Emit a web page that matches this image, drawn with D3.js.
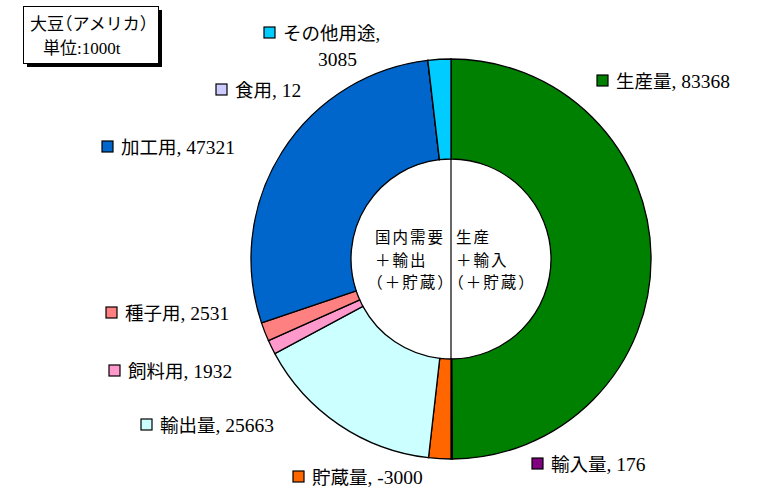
<!DOCTYPE html>
<html>
<head>
<meta charset="utf-8">
<script src="https://d3js.org/d3.v7.min.js"></script>
<style>
  body { margin: 0; background: #fff; }
  text { font-family: "Liberation Serif", "Noto Sans CJK JP", serif; }
  .halt { font-feature-settings: "halt" 1; }
</style>
</head>
<body>
<div id="chart"></div>
<script>
// slice order: supply half (clockwise from top), then demand half
var names  = ["生産量", "輸入量", "貯蔵量", "輸出量", "飼料用", "種子用", "加工用", "食用", "その他用途"];
var values = [83368, 176, -3000, 25663, 1932, 2531, 47321, 12, 3085];
var colors = ["#008000", "#800080", "#FF6600", "#CCFFFF", "#FF99CC", "#FF8080", "#0066CC", "#CCCCFF", "#00CCFF"];

// label anchor spots (square left / text baseline)
var labelPos = [
  [597, 88], [532, 471], [293, 484], [141, 432], [109, 378],
  [106, 320], [102, 154], [216, 97], [264, 40]
];

var W = 763, H = 495;
var cx = 451, cy = 259, R = 200, r = 100;

var svg = d3.select("#chart").append("svg")
  .attr("width", W).attr("height", H);

var data = names.map(function (n, i) {
  return { name: n, value: values[i], color: colors[i], pos: labelPos[i] };
});

var pie = d3.pie().sort(null).value(function (d) { return Math.abs(d.value); });
var arc = d3.arc().innerRadius(r).outerRadius(R);

var g = svg.append("g").attr("transform", "translate(" + cx + "," + cy + ")");
g.selectAll("path")
  .data(pie(data))
  .enter().append("path")
  .attr("d", arc)
  .attr("fill", function (d) { return d.data.color; })
  .attr("stroke", "#000")
  .attr("stroke-width", 1.3);

// divider in the hole
g.append("line")
  .attr("x1", 0).attr("x2", 0)
  .attr("y1", -r).attr("y2", r)
  .attr("stroke", "#000").attr("stroke-width", 1.2);

// center captions, one text block per side
var leftTxt = ["国内需要", "＋輸出", "（＋貯蔵）"];
var rightTxt = ["生産", "＋輸入", "（＋貯蔵）"];
var cFont = '"Noto Sans CJK JP", sans-serif';
[[leftTxt, 375], [rightTxt, 456]].forEach(function (c) {
  var t = svg.append("text").attr("class", "halt").attr("y", 243)
    .style("font-family", cFont).style("font-size", "15.5px")
    .style("letter-spacing", "2px");
  c[0].forEach(function (s, i) {
    t.append("tspan").attr("x", c[1]).attr("dy", i == 0 ? 0 : 22.5).text(s);
  });
});

// slice labels with swatch
data.forEach(function (d) {
  var x = d.pos[0], y = d.pos[1];
  svg.append("rect")
    .attr("x", x).attr("y", y - 13).attr("width", 11).attr("height", 11)
    .attr("fill", d.color).attr("stroke", "#000").attr("stroke-width", 1.2);
  if (d.name == "その他用途") {
    svg.append("text").attr("x", x + 19).attr("y", y)
      .style("font-size", "18.5px").text(d.name + ",");
    svg.append("text").attr("x", x + 54).attr("y", y + 26)
      .style("font-size", "19.5px").text(d.value);
  } else {
    var t = svg.append("text").attr("x", x + 19).attr("y", y);
    t.append("tspan").style("font-size", "18.5px").text(d.name);
    t.append("tspan").style("font-size", "19.5px").text(", " + d.value);
  }
});

// title box with shadow
svg.append("rect").attr("x", 27).attr("y", 10).attr("width", 135).attr("height", 57).attr("fill", "#000");
svg.append("rect").attr("x", 23.5).attr("y", 6.5).attr("width", 135).attr("height", 57)
  .attr("fill", "#fff").attr("stroke", "#000").attr("stroke-width", 1);
svg.append("text").attr("class", "halt").attr("x", 30).attr("y", 30).style("font-size", "17px").text("大豆（アメリカ）");
svg.append("text").attr("x", 43).attr("y", 54).style("font-size", "17px").text("単位:1000t");
</script>
</body>
</html>
